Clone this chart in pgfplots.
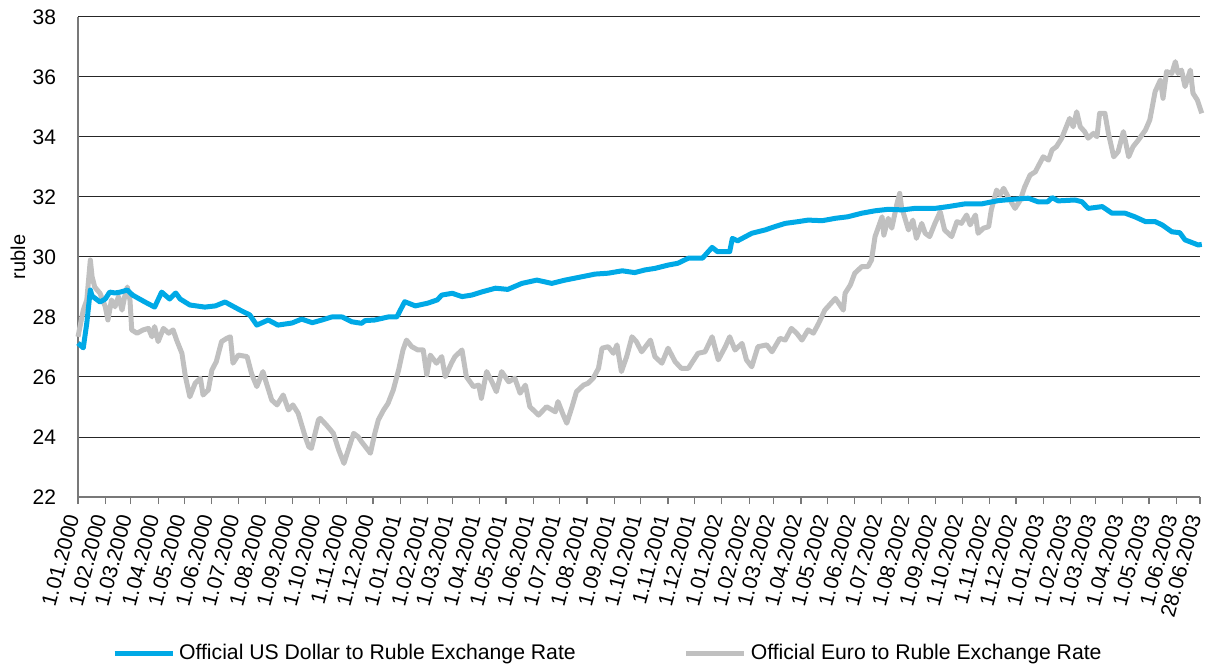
\documentclass[border=0pt]{standalone}
\usepackage{pgfplots}
\pgfplotsset{compat=1.18}
\usepackage{fontspec}
\setmainfont{Liberation Sans}
\definecolor{usdblue}{RGB}{0,169,230}
\definecolor{eurgray}{RGB}{192,192,192}
\definecolor{axgray}{RGB}{120,120,120}

\begin{document}
\begin{tikzpicture}
\begin{axis}[
  set layers,
  scale only axis, width=561pt, height=240pt,
  xmin=0, xmax=1274, ymin=22, ymax=38,
  axis x line*=bottom, axis y line*=left,
  axis line style={draw=axgray, line width=0.8pt, -},
  ytick={22,24,...,38},
  ymajorgrids, grid style={black!85, line width=0.5pt},
  ytick style={draw=none},
  xtick={0,31,60,91,121,152,182,213,244,274,305,335,
         366,397,425,456,486,517,547,578,609,639,670,700,
         731,762,790,821,851,882,912,943,974,1004,1035,1065,
         1096,1127,1155,1186,1216,1247,1274},
  xticklabels={1.01.2000,1.02.2000,1.03.2000,1.04.2000,1.05.2000,1.06.2000,
    1.07.2000,1.08.2000,1.09.2000,1.10.2000,1.11.2000,1.12.2000,
    1.01.2001,1.02.2001,1.03.2001,1.04.2001,1.05.2001,1.06.2001,
    1.07.2001,1.08.2001,1.09.2001,1.10.2001,1.11.2001,1.12.2001,
    1.01.2002,1.02.2002,1.03.2002,1.04.2002,1.05.2002,1.06.2002,
    1.07.2002,1.08.2002,1.09.2002,1.10.2002,1.11.2002,1.12.2002,
    1.01.2003,1.02.2003,1.03.2003,1.04.2003,1.05.2003,1.06.2003,28.06.2003},
  tick align=outside, major tick length=3.5pt,
  xtick style={draw=axgray, line width=0.6pt},
  xticklabel style={xshift=-2.5pt, yshift=-4.5pt, rotate=75, anchor=east,
    font=\fontsize{10.5}{12}\selectfont, inner sep=1pt},
  yticklabel style={font=\fontsize{10.5}{12}\selectfont, xshift=-4pt},
  /pgf/number format/assume math mode=true,
  ylabel={ruble},
  ylabel style={font=\fontsize{10}{12}\selectfont,
    at={(axis description cs:-0.0535,0.5)}, anchor=center},
  clip=false,
  legend columns=2,
  legend style={at={(0.03,-0.325)}, anchor=west, draw=none, fill=none,
    font=\fontsize{10.6}{12}\selectfont, inner sep=0pt,
    /tikz/every even column/.append style={column sep=52pt}},
  legend image code/.code={\draw[#1] (0pt,0pt) -- (29pt,0pt);},
  every axis plot/.append style={line width=2.5pt, line join=round},
]
\addplot[usdblue] coordinates {
 (0,27.13) (6,26.97) (10,27.80) (14,28.90) (16,28.70) (25,28.50) (31,28.60)
 (36,28.83) (42,28.80) (48,28.83) (56,28.90) (62,28.73) (76,28.50) (87,28.33)
 (95,28.83) (104,28.60) (111,28.80) (116,28.60) (127,28.40) (144,28.33)
 (156,28.37) (167,28.50) (184,28.23) (195,28.07) (203,27.73) (216,27.90)
 (227,27.73) (243,27.80) (254,27.93) (266,27.81) (277,27.90) (288,28.00)
 (300,28.00) (311,27.84) (322,27.79) (326,27.88) (337,27.90) (352,28.00)
 (362,28.00) (366,28.23) (371,28.51) (383,28.37) (397,28.46) (408,28.57)
 (413,28.73) (425,28.79) (436,28.68) (447,28.73) (459,28.84) (474,28.96)
 (488,28.92) (504,29.12) (521,29.23) (538,29.12) (553,29.23) (572,29.34)
 (587,29.43) (602,29.46) (618,29.54) (632,29.48) (644,29.57) (655,29.62)
 (670,29.73) (681,29.79) (693,29.96) (709,29.96) (720,30.32) (726,30.18)
 (740,30.18) (743,30.62) (749,30.54) (765,30.79) (780,30.90) (791,31.01)
 (803,31.12) (818,31.18) (829,31.23) (845,31.21) (860,31.29) (874,31.34)
 (890,31.46) (905,31.54) (920,31.59) (936,31.57) (950,31.62) (973,31.62)
 (988,31.68) (1007,31.77) (1026,31.77) (1045,31.88) (1064,31.93) (1079,31.96)
 (1090,31.84) (1101,31.84) (1106,31.98) (1113,31.87) (1132,31.90) (1140,31.84)
 (1147,31.62) (1163,31.68) (1174,31.46) (1189,31.46) (1200,31.34) (1212,31.18)
 (1223,31.18) (1231,31.07) (1242,30.84) (1251,30.81) (1257,30.57) (1265,30.48)
 (1272,30.40) (1276,30.42)};
\addlegendentry{Official US Dollar to Ruble Exchange Rate}
\addplot[eurgray, on layer=pre main] coordinates {
 (0,27.34) (6,28.23) (10,28.57) (14,29.90) (16,29.34) (19,29.00) (25,28.79)
 (31,28.34) (34,27.90) (38,28.57) (42,28.34) (46,28.68) (50,28.23) (53,28.68)
 (56,29.00) (59,28.57) (61,27.57) (67,27.46) (74,27.57) (80,27.62) (84,27.34)
 (87,27.68) (91,27.18) (97,27.62) (103,27.46) (108,27.57) (112,27.23)
 (118,26.79) (122,26.01) (127,25.34) (133,25.79) (139,25.96) (142,25.40)
 (148,25.57) (152,26.23) (157,26.51) (163,27.18) (169,27.29) (173,27.34)
 (176,26.46) (182,26.73) (192,26.68) (197,26.12) (203,25.68) (210,26.18)
 (214,25.79) (220,25.23) (226,25.07) (233,25.40) (239,24.90) (244,25.07)
 (250,24.79) (258,24.01) (262,23.68) (265,23.62) (273,24.57) (275,24.62)
 (282,24.40) (290,24.12) (296,23.57) (302,23.12) (305,23.40) (313,24.12)
 (318,24.01) (322,23.84) (332,23.46) (337,24.12) (341,24.57) (347,24.90)
 (352,25.12) (358,25.57) (364,26.23) (369,26.90) (373,27.23) (379,27.01)
 (386,26.90) (392,26.90) (396,26.07) (400,26.73) (407,26.46) (413,26.68)
 (417,26.01) (424,26.46) (428,26.68) (436,26.90) (441,26.01) (449,25.68)
 (455,25.73) (458,25.29) (464,26.18) (470,25.84) (475,25.51) (481,26.18)
 (489,25.84) (496,25.96) (502,25.46) (508,25.73) (513,25.01) (523,24.73)
 (532,25.01) (542,24.84) (545,25.18) (551,24.73) (555,24.46) (561,25.01)
 (566,25.51) (574,25.73) (579,25.79) (585,25.96) (591,26.29) (595,26.96)
 (602,27.01) (608,26.79) (612,27.07) (617,26.18) (623,26.68) (629,27.34)
 (634,27.18) (640,26.84) (650,27.23) (655,26.68) (663,26.46) (670,26.96)
 (678,26.51) (685,26.29) (693,26.29) (704,26.79) (712,26.84) (720,27.34)
 (727,26.57) (735,27.01) (740,27.34) (746,26.90) (754,27.12) (759,26.57)
 (765,26.34) (772,27.01) (782,27.07) (788,26.84) (797,27.29) (803,27.23)
 (810,27.62) (816,27.46) (822,27.23) (829,27.57) (835,27.46) (841,27.79)
 (848,28.23) (860,28.62) (869,28.23) (871,28.79) (877,29.07) (882,29.46)
 (890,29.68) (897,29.68) (901,29.90) (905,30.68) (913,31.34) (915,30.73)
 (920,31.29) (924,30.96) (930,31.79) (933,32.12) (935,31.68) (943,30.90)
 (948,31.23) (952,30.62) (958,31.12) (962,30.79) (967,30.68) (973,31.12)
 (979,31.51) (984,30.90) (992,30.68) (998,31.18) (1003,31.12) (1009,31.40)
 (1013,31.07) (1019,31.40) (1022,30.79) (1028,30.96) (1034,31.01) (1037,31.57)
 (1043,32.23) (1047,32.07) (1051,32.29) (1056,32.01) (1064,31.62) (1070,31.90)
 (1075,32.34) (1081,32.73) (1087,32.84) (1092,33.12) (1096,33.34) (1102,33.23)
 (1106,33.57) (1111,33.68) (1117,33.96) (1123,34.40) (1126,34.62) (1130,34.34)
 (1134,34.84) (1138,34.34) (1143,34.18) (1147,33.96) (1153,34.12) (1157,34.01)
 (1160,34.79) (1166,34.79) (1170,34.12) (1176,33.34) (1181,33.51) (1187,34.18)
 (1193,33.34) (1198,33.68) (1204,33.90) (1212,34.23) (1217,34.57) (1223,35.51)
 (1229,35.90) (1232,35.29) (1236,36.18) (1242,36.12) (1246,36.51) (1249,36.12)
 (1253,36.23) (1257,35.68) (1263,36.23) (1266,35.46) (1271,35.23) (1276,34.79)};
\addlegendentry{Official Euro to Ruble Exchange Rate}
\end{axis}
\pgfresetboundingbox
\path[use as bounding box] ([shift={(-39pt,-85.5pt)}]current axis.south west)
  rectangle ([shift={(6pt,8.5pt)}]current axis.north east);
\end{tikzpicture}
\end{document}
